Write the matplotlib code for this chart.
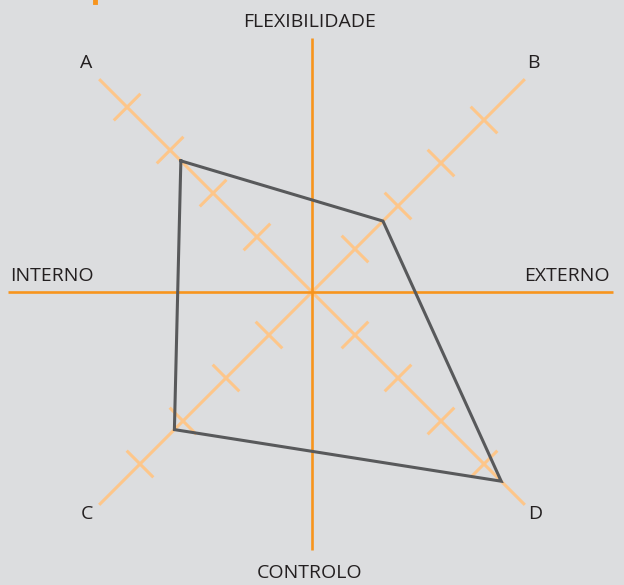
import numpy as np
import matplotlib.pyplot as plt
from matplotlib.lines import Line2D

# main axes labels
axis_labels = ['FLEXIBILIDADE', 'CONTROLO', 'INTERNO', 'EXTERNO']
# diagonals: name, direction (x sign, y sign)
diag_names = ['A', 'B', 'C', 'D']
diag_dirs = [(-1, 1), (1, 1), (-1, -1), (1, -1)]
diag_len = 4.95
# tick positions along each diagonal
diag_ticks = [[1.28, 2.3, 3.3, 4.3],
              [1, 2, 3, 4],
              [1, 2, 3, 4],
              [1, 2, 3, 4]]
# polygon values on each diagonal
values = [3.05, 1.65, 3.2, 4.4]

bg = '#dcdddf'
orange = '#f7941d'
light_orange = '#fdc68a'
poly_col = '#58595b'
text_col = '#231f20'

plt.rcParams['font.family'] = ['Open Sans', 'DejaVu Sans']

fig = plt.figure(figsize=(6.24, 5.85), dpi=100, facecolor=bg)
ax = fig.add_axes([0, 0, 1, 1])
ax.set_facecolor(bg)
ax.set_xlim(-312 / 43, 312 / 43)
ax.set_ylim(-293 / 43, 292 / 43)
ax.axis('off')

# diagonals with tick marks
half = 0.31
for (sx, sy), ticks in zip(diag_dirs, diag_ticks):
    ax.plot([0, sx * diag_len], [0, sy * diag_len], color=light_orange, lw=2.2,
            solid_capstyle='butt', zorder=1)
    for t in ticks:
        cx, cy = sx * t, sy * t
        # perpendicular direction
        px, py = -sy, sx
        ax.plot([cx - px * half, cx + px * half], [cy - py * half, cy + py * half],
                color=light_orange, lw=2.2, solid_capstyle='butt', zorder=1)

# main axes
ax.plot([0, 0], [-6.0, 5.91], color=orange, lw=1.9, solid_capstyle='butt', zorder=2)
ax.plot([-7.07, 7.0], [0, 0], color=orange, lw=1.9, solid_capstyle='butt', zorder=2)

# polygon
px_ = [sx * v for (sx, sy), v in zip(diag_dirs, values)]
py_ = [sy * v for (sx, sy), v in zip(diag_dirs, values)]
order = [0, 1, 3, 2, 0]
ax.plot([px_[i] for i in order], [py_[i] for i in order], color=poly_col, lw=2.2,
        solid_joinstyle='miter', zorder=3)

fs = 14
ax.text(-0.05, 6.28, axis_labels[0], ha='center', va='center', fontsize=fs, color=text_col)
ax.text(-0.05, -6.53, axis_labels[1], ha='center', va='center', fontsize=fs, color=text_col)
ax.text(-7.02, 0.37, axis_labels[2], ha='left', va='center', fontsize=fs, color=text_col)
ax.text(6.93, 0.37, axis_labels[3], ha='right', va='center', fontsize=fs, color=text_col)

label_pos = [(-5.26, 5.33), (5.14, 5.33), (-5.23, -5.16), (5.19, -5.16)]
for name, (x, y) in zip(diag_names, label_pos):
    ax.text(x, y, name, ha='center', va='center', fontsize=fs, color=text_col)

# small orange fragment at the top edge
fig.add_artist(Line2D([94.5 / 624, 94.5 / 624], [1, 1 - 1.5 / 585], color=orange, lw=3.5,
                      transform=fig.transFigure))

fig.savefig('out.png', dpi=100, facecolor=bg)
